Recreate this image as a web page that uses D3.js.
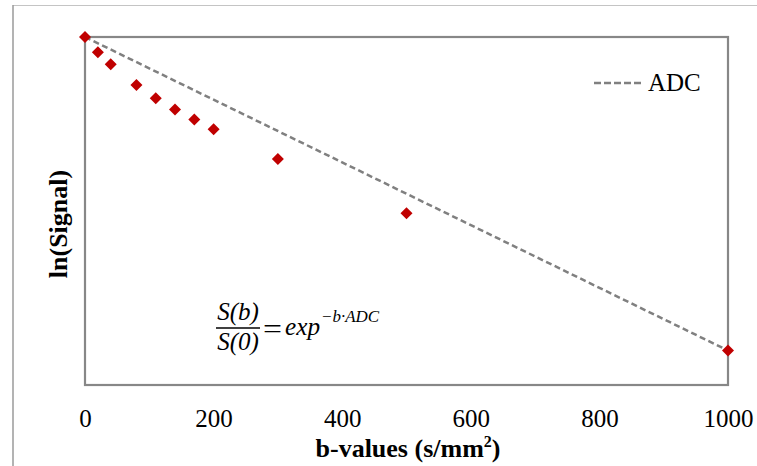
<!DOCTYPE html>
<html>
<head>
<meta charset="utf-8">
<script src="https://cdn.jsdelivr.net/npm/d3@7"></script>
<style>
  html, body { margin: 0; padding: 0; background: #fff; }
  svg { display: block; }
</style>
</head>
<body>
<svg id="chart" width="757" height="466"></svg>
<script>
// Diffusion-weighted signal decay: b-values and ln(S(b)/S(0))
const bValues = [0, 20, 40, 80, 110, 140, 170, 200, 300, 500, 1000];
const lnSignal = [0, -0.049, -0.087, -0.153, -0.195, -0.231, -0.263, -0.294, -0.389, -0.562, -1.0];
// Mono-exponential ADC fit (endpoints)
const adcB = [0, 1000];
const adcLn = [0, -1.0];
const xTicks = [0, 200, 400, 600, 800, 1000];
const yDomain = [-1.11, 0];

const SERIF = '"Liberation Serif"';
const svg = d3.select("#chart");
const W = 757, H = 466;
const plot = { left: 85, right: 728, top: 37, bottom: 385 };

const x = d3.scaleLinear().domain([0, 1000]).range([plot.left, plot.right]);
const y = d3.scaleLinear().domain(yDomain).range([plot.bottom, plot.top]);

// Outer chart border
svg.append("line").attr("x1", 13).attr("x2", W).attr("y1", 5.5).attr("y2", 5.5)
  .attr("stroke", "#c4c4c4").attr("stroke-width", 1.2);
svg.append("line").attr("x1", 13).attr("x2", 13).attr("y1", 5).attr("y2", H)
  .attr("stroke", "#9a9a9a").attr("stroke-width", 1.5);

// Plot area frame
svg.append("rect")
  .attr("x", plot.left).attr("y", plot.top)
  .attr("width", plot.right - plot.left).attr("height", plot.bottom - plot.top)
  .attr("fill", "none").attr("stroke", "#878787").attr("stroke-width", 2.2);

// X axis tick labels (no tick marks)
const xAxis = d3.axisBottom(x).tickValues(xTicks).tickSize(0).tickPadding(0)
  .tickFormat(d3.format("d"));
const gx = svg.append("g").attr("transform", `translate(0,${plot.bottom})`).call(xAxis);
gx.select(".domain").remove();
gx.selectAll("text")
  .attr("dy", null).attr("y", 42)
  .style("font-family", SERIF)
  .style("font-size", "25px").attr("fill", "#000");

// Axis titles
const xTitle = svg.append("text")
  .attr("x", 408).attr("y", 457)
  .attr("text-anchor", "middle")
  .style("font-family", SERIF)
  .style("font-size", "26px").style("font-weight", "bold").attr("fill", "#000");
xTitle.append("tspan").text("b-values (s/mm");
xTitle.append("tspan").attr("dy", -10).style("font-size", "16px").text("2");
xTitle.append("tspan").attr("dy", 10).text(")");

svg.append("text")
  .attr("transform", "translate(67,224) rotate(-90)")
  .attr("text-anchor", "middle")
  .style("font-family", SERIF)
  .style("font-size", "26px").style("font-weight", "bold").attr("fill", "#000")
  .text("ln(Signal)");

// ADC fit line
svg.append("path")
  .datum(adcB.map((b, i) => [b, adcLn[i]]))
  .attr("d", d3.line().x(d => x(d[0])).y(d => y(d[1])))
  .attr("fill", "none").attr("stroke", "#808080")
  .attr("stroke-width", 2.5).attr("stroke-dasharray", "6,3.5");

// Measured signal points (red diamonds)
const diamond = d3.symbol().type(d3.symbolSquare).size(72);
svg.append("g").selectAll("path")
  .data(bValues.map((b, i) => [b, lnSignal[i]]))
  .join("path")
  .attr("d", diamond)
  .attr("transform", d => `translate(${x(d[0])},${y(d[1])}) rotate(45)`)
  .attr("fill", "#c00000");

// Legend
svg.append("line")
  .attr("x1", 594).attr("x2", 642).attr("y1", 83).attr("y2", 83)
  .attr("stroke", "#808080").attr("stroke-width", 2.5).attr("stroke-dasharray", "7,3");
svg.append("text")
  .attr("x", 648).attr("y", 91)
  .style("font-family", SERIF)
  .style("font-size", "25px").attr("fill", "#000")
  .text("ADC");

// Signal model equation: S(b)/S(0) = exp^(-b·ADC)
const eq = svg.append("g")
  .style("font-family", SERIF)
  .style("font-style", "italic").attr("fill", "#000");
eq.append("text").attr("x", 238).attr("y", 320).attr("text-anchor", "middle")
  .style("font-size", "25px").text("S(b)");
eq.append("line").attr("x1", 216).attr("x2", 260).attr("y1", 328).attr("y2", 328)
  .attr("stroke", "#000").attr("stroke-width", 1.4);
eq.append("text").attr("x", 238).attr("y", 350).attr("text-anchor", "middle")
  .style("font-size", "25px").text("S(0)");
eq.append("text").attr("x", 263).attr("y", 338).style("font-style", "normal")
  .attr("textLength", 19).attr("lengthAdjust", "spacingAndGlyphs")
  .style("font-size", "27px").text("=");
eq.append("text").attr("x", 285).attr("y", 335)
  .attr("textLength", 35).attr("lengthAdjust", "spacingAndGlyphs")
  .style("font-size", "25px").text("exp");
eq.append("text").attr("x", 321).attr("y", 322)
  .attr("textLength", 58).attr("lengthAdjust", "spacingAndGlyphs")
  .style("font-size", "16px").text("−b·ADC");
</script>
</body>
</html>
